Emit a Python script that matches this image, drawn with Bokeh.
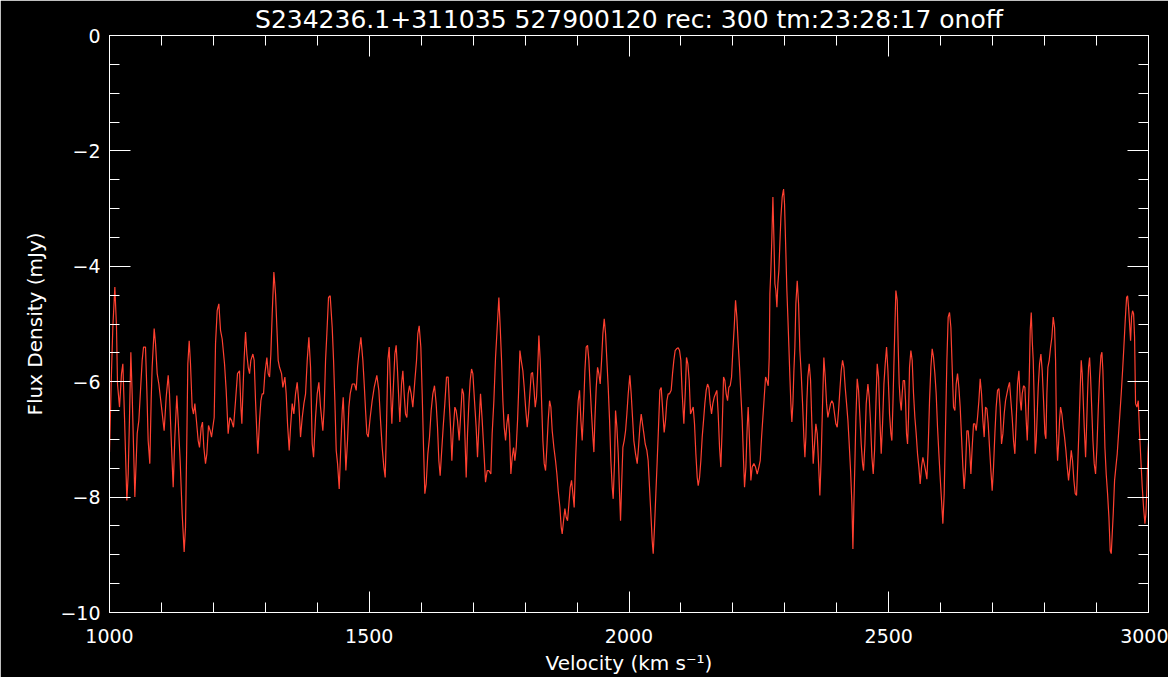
from bokeh.plotting import figure
from bokeh.models import LinearAxis, SingleIntervalTicker, Range1d
from bokeh.embed import file_html
from bokeh.resources import INLINE

title_text = "S234236.1+311035 527900120 rec: 300 tm:23:28:17 onoff"
x_label = "Velocity (km s\u207b\u00b9)"
y_label = "Flux Density (mJy)"

velocity = [
    1000.0, 1003.9, 1006.4, 1010.3, 1013.5, 1015.4, 1019.3, 1023.1, 1025.7, 1028.9,
    1033.4, 1036.0, 1038.5, 1041.1, 1043.6, 1048.8, 1053.3, 1056.5, 1062.9, 1065.5,
    1069.3, 1071.9, 1074.4, 1077.6, 1080.2, 1082.1, 1086.0, 1088.6, 1091.8, 1095.0,
    1100.1, 1105.2, 1109.1, 1113.0, 1115.5, 1119.4, 1122.6, 1125.8, 1129.6, 1132.2,
    1136.0, 1139.9, 1143.7, 1146.3, 1148.9, 1150.8, 1153.4, 1155.9, 1159.1, 1161.7,
    1164.3, 1166.8, 1170.7, 1173.3, 1176.5, 1179.0, 1181.6, 1184.8, 1187.4, 1190.6,
    1193.8, 1196.4, 1198.9, 1201.5, 1204.1, 1207.3, 1210.5, 1213.7, 1216.9, 1221.4,
    1224.6, 1228.4, 1231.7, 1234.9, 1238.7, 1242.6, 1246.4, 1250.3,
    1252.9, 1254.8, 1256.7, 1259.3, 1261.9, 1264.4, 1267.0, 1269.6, 1272.1, 1276.0,
    1278.5, 1281.1, 1283.7, 1285.6, 1288.8, 1291.4, 1293.9, 1296.5, 1299.1, 1302.9,
    1305.5, 1308.1, 1310.6, 1313.2, 1316.4, 1319.6, 1322.2, 1324.7, 1327.3, 1331.2,
    1333.7, 1337.6, 1340.1, 1342.7, 1345.9, 1348.5, 1351.7, 1354.9, 1358.1, 1361.3,
    1364.5, 1367.7, 1371.0, 1374.2, 1377.4, 1380.6, 1383.8, 1387.0, 1390.2, 1392.8,
    1396.6, 1399.8, 1403.0, 1406.2, 1410.7, 1413.3, 1415.9, 1418.4, 1421.6, 1424.8,
    1428.7, 1431.3, 1433.8, 1436.4, 1439.0, 1442.2, 1445.4, 1448.0, 1449.9, 1452.4,
    1455.0, 1458.2, 1460.8, 1463.3, 1467.2, 1471.7, 1474.9, 1477.5, 1480.0, 1483.9,
    1487.7, 1490.3, 1492.9, 1495.4, 1498.0,
    1501.8, 1505.6, 1509.5, 1514.6, 1518.5, 1521.7, 1524.9, 1528.1, 1530.7, 1533.2,
    1535.8, 1538.4, 1540.9, 1543.5, 1546.7, 1549.3, 1551.8, 1554.4, 1557.0, 1558.9,
    1562.1, 1564.7, 1567.2, 1569.8, 1572.4, 1574.9, 1577.5, 1580.7, 1583.9, 1587.8,
    1591.0, 1593.5, 1596.1, 1599.3, 1601.9, 1604.5, 1607.0, 1609.6, 1612.8, 1616.0,
    1619.2, 1622.4, 1625.6, 1628.8, 1631.4, 1634.0, 1636.5, 1639.1, 1642.3, 1645.5,
    1648.7, 1651.9, 1654.5, 1657.1, 1659.0, 1661.6, 1664.8, 1667.3, 1669.9, 1673.1,
    1675.7, 1678.9, 1681.5, 1684.0, 1686.6, 1689.2, 1691.7, 1694.3, 1696.9, 1699.4,
    1702.6, 1705.8, 1708.4, 1711.0, 1714.2, 1717.4, 1720.6, 1723.8, 1727.0, 1730.2,
    1734.1, 1736.6, 1739.9, 1743.1, 1746.3, 1749.5,
    1752.1, 1754.7, 1757.2, 1759.8, 1762.4, 1764.9, 1767.5, 1770.1, 1772.6, 1775.2,
    1777.8, 1780.3, 1782.9, 1785.5, 1788.0, 1790.0, 1792.5, 1795.7, 1798.3, 1800.9,
    1804.1, 1806.6, 1809.2, 1811.8, 1814.3, 1816.9, 1819.5, 1822.0, 1824.0, 1826.5,
    1829.1, 1831.7, 1834.2, 1836.8, 1839.4, 1841.9, 1844.5, 1847.1, 1849.6, 1852.2,
    1855.4, 1858.6, 1861.2, 1863.7, 1867.0, 1869.5, 1871.4, 1874.0, 1876.6, 1879.1,
    1881.7, 1884.3, 1886.8, 1889.4, 1892.0, 1894.5, 1897.1, 1899.7, 1902.2, 1904.8,
    1907.4, 1909.9, 1912.5, 1915.1, 1917.6, 1920.2, 1922.8, 1925.3, 1927.9, 1930.5,
    1932.4, 1934.3, 1936.9, 1939.5, 1942.0, 1944.6, 1947.2, 1949.7, 1952.3, 1954.9,
    1957.4, 1960.0, 1962.6, 1965.1, 1967.7, 1969.6, 1972.2, 1974.1, 1976.7, 1979.3,
    1981.8, 1983.7, 1985.7, 1988.2, 1990.8, 1993.4, 1995.9, 1998.5,
    2001.6, 2004.2, 2006.8, 2009.3, 2012.6, 2015.8, 2018.3, 2020.9, 2023.5, 2026.0,
    2028.6, 2031.2, 2034.4, 2036.9, 2039.5, 2042.1, 2044.6, 2046.6, 2049.1, 2051.7,
    2054.3, 2056.8, 2059.4, 2062.0, 2064.5, 2067.7, 2070.3, 2072.9, 2075.4, 2078.0,
    2081.2, 2083.8, 2086.3, 2088.9, 2091.5, 2094.7, 2097.3, 2099.8, 2102.4, 2105.6,
    2108.2, 2110.7, 2113.3, 2115.9, 2118.4, 2121.0, 2123.6, 2126.1, 2128.7, 2131.3,
    2133.2, 2135.8, 2138.3, 2140.9, 2143.5, 2146.0, 2148.6, 2151.2, 2153.7, 2156.3,
    2158.9, 2161.4, 2164.0, 2166.6, 2169.1, 2171.7, 2174.3, 2176.8, 2179.4, 2182.0,
    2184.5, 2187.1, 2189.7, 2192.2, 2194.8, 2197.4, 2199.9, 2202.5, 2205.1, 2207.6,
    2210.2, 2212.8, 2215.3, 2217.9, 2220.5, 2222.4, 2225.0, 2227.5, 2229.4, 2232.0,
    2234.6, 2237.1, 2240.4, 2243.6, 2246.8, 2250.0,
    2252.6, 2255.2, 2257.7, 2260.3, 2262.9, 2265.4, 2268.0, 2269.9, 2271.2, 2273.1,
    2275.0, 2277.0, 2278.9, 2280.8, 2282.7, 2284.7, 2286.6, 2288.5, 2290.4, 2292.4,
    2294.9, 2297.5, 2299.4, 2302.0, 2303.9, 2305.8, 2307.8, 2309.7, 2311.6, 2313.5,
    2315.5, 2317.4, 2319.3, 2321.2, 2323.8, 2326.4, 2328.9, 2331.5, 2334.1, 2336.6,
    2338.6, 2340.5, 2342.4, 2344.3, 2346.9, 2349.5, 2352.0, 2354.6, 2357.2, 2359.7,
    2362.3, 2364.9, 2367.4, 2370.0, 2372.6, 2375.1, 2377.7, 2380.3, 2382.8, 2385.4,
    2388.0, 2390.5, 2393.1, 2395.7, 2398.2, 2400.8, 2403.4, 2405.9, 2408.5, 2411.1,
    2413.6, 2416.2, 2418.8, 2421.4, 2423.9, 2426.5, 2429.1, 2431.0, 2432.9, 2434.8,
    2436.8, 2439.3, 2441.9, 2444.5, 2447.0, 2449.6, 2451.5, 2454.1, 2456.6, 2459.9,
    2462.4, 2465.0, 2467.6, 2470.1, 2472.7, 2475.3, 2477.8, 2480.4, 2483.0, 2485.5,
    2488.1, 2490.7, 2493.2, 2495.8, 2498.4, 2500.9,
    2501.5, 2504.1, 2506.0, 2507.9, 2509.8, 2511.8, 2513.7, 2516.3, 2518.2, 2520.1,
    2522.0, 2524.0, 2525.9, 2527.8, 2530.4, 2532.3, 2534.2, 2536.2, 2538.1, 2540.0,
    2542.6, 2545.1, 2547.7, 2550.3, 2552.8, 2555.4, 2558.0, 2560.5, 2563.1, 2565.7,
    2568.2, 2570.8, 2573.4, 2575.9, 2578.5, 2581.1, 2583.6, 2586.2, 2588.8, 2591.3,
    2593.9, 2596.5, 2599.0, 2601.6, 2604.2, 2606.7, 2609.3, 2611.9, 2614.4, 2617.0,
    2619.6, 2622.1, 2624.7, 2627.3, 2629.8, 2632.4, 2635.0, 2637.5, 2640.1, 2642.7,
    2645.2, 2647.8, 2650.4, 2652.9, 2655.5, 2658.1, 2660.6, 2663.2, 2665.8, 2668.3,
    2670.9, 2673.5, 2676.0, 2678.6, 2681.2, 2683.7, 2686.3, 2688.9, 2691.4, 2694.0,
    2696.6, 2699.1, 2701.7, 2704.3, 2706.8, 2709.4, 2712.0, 2714.5, 2717.1, 2719.7,
    2722.2, 2724.8, 2727.4, 2729.9, 2732.5, 2735.1, 2737.6, 2740.2, 2742.8, 2745.3,
    2747.9, 2750.5,
    2753.1, 2755.0, 2756.9, 2759.5, 2762.1, 2764.6, 2766.6, 2768.5, 2770.4, 2772.3,
    2774.3, 2776.2, 2778.1, 2780.0, 2782.0, 2783.9, 2785.8, 2787.7, 2790.3, 2792.9,
    2795.4, 2798.0, 2800.6, 2802.5, 2804.4, 2806.3, 2808.9, 2811.5, 2814.0, 2816.6,
    2819.2, 2821.1, 2823.0, 2825.0, 2826.9, 2828.8, 2830.7, 2833.3, 2835.9, 2838.4,
    2841.0, 2843.6, 2846.1, 2848.7, 2851.3, 2853.8, 2856.4, 2859.0, 2861.5, 2864.1,
    2866.7, 2868.6, 2870.5, 2872.4, 2874.4, 2876.3, 2878.9, 2880.8, 2882.7, 2884.6,
    2886.6, 2888.5, 2890.4, 2893.0, 2895.5, 2898.1, 2900.7, 2903.2, 2905.8, 2908.4,
    2910.3, 2912.2, 2914.2, 2916.1, 2918.6, 2921.2, 2923.8, 2926.3, 2928.3, 2930.2,
    2932.1, 2934.7, 2937.2, 2939.8, 2942.4, 2944.9, 2947.5, 2950.1, 2952.6, 2955.2,
    2957.8, 2959.7, 2961.6, 2963.6, 2965.5, 2967.4, 2969.3, 2971.3, 2973.2, 2975.1,
    2977.7, 2980.3, 2982.8, 2985.4, 2988.0, 2990.5, 2993.1, 2995.0, 2997.0, 2998.9,
    3000.0,
]

flux = [
    -7.22, -5.81, -5.06, -4.36, -5.06, -6.04, -6.44, -5.86, -5.69, -6.62,
    -8.06, -7.60, -6.62, -5.49, -6.21, -8.00, -6.90, -6.67, -5.63, -5.40,
    -5.40, -6.15, -7.02, -7.42, -6.33, -5.75, -5.08, -5.34, -5.86, -6.04,
    -6.44, -6.85, -6.27, -5.89, -6.21, -7.14, -7.83, -6.96, -6.24, -6.67,
    -7.37, -8.29, -8.95, -8.52, -6.96, -5.69, -5.29, -5.69, -6.44, -6.56,
    -6.38, -6.62, -7.02, -7.14, -6.79, -6.70, -7.14, -7.42, -7.25, -6.76,
    -6.85, -6.96, -6.79, -6.62, -5.34, -4.77, -4.65, -5.11, -5.26, -5.69,
    -6.15, -6.90, -6.62, -6.67, -6.79, -6.33, -5.86, -5.81,
    -6.44, -6.73, -6.21, -5.58, -5.14, -5.52, -5.75, -5.86, -5.63, -5.52,
    -5.63, -6.33, -6.90, -7.25, -6.67, -6.33, -6.21, -6.21, -5.86, -5.58,
    -5.86, -5.92, -5.52, -4.82, -4.10, -4.48, -5.06, -5.63, -5.75, -5.86,
    -6.10, -5.92, -6.21, -6.73, -7.19, -6.79, -6.38, -6.56, -6.21, -6.01,
    -6.38, -6.96, -6.62, -6.38, -6.21, -5.63, -5.23, -5.75, -7.08, -7.31,
    -6.62, -6.21, -6.01, -6.44, -6.85, -6.44, -5.63, -5.17, -4.54, -4.51,
    -5.06, -5.63, -6.33, -7.19, -7.42, -7.86, -7.08, -6.50, -6.27, -6.85,
    -7.54, -7.02, -6.44, -6.21, -6.04, -6.04, -6.15, -5.75, -5.52, -5.23,
    -5.63, -6.04, -6.50, -6.90, -6.96,
    -6.62, -6.33, -6.10, -5.89, -6.15, -6.67, -7.14, -7.48, -7.66, -6.79,
    -5.63, -5.40, -6.10, -6.73, -6.04, -5.52, -5.37, -5.81, -6.33, -6.70,
    -6.04, -5.81, -6.21, -6.56, -6.62, -6.21, -6.07, -6.21, -6.44, -5.98,
    -5.63, -5.17, -5.03, -5.40, -6.21, -7.14, -7.94, -7.77, -7.25, -6.96,
    -6.50, -6.21, -6.07, -6.38, -6.79, -7.37, -7.63, -7.25, -6.79, -6.38,
    -5.92, -5.92, -6.44, -6.90, -7.37, -6.85, -6.44, -6.50, -6.67, -7.02,
    -6.62, -6.12, -6.21, -6.90, -7.66, -6.90, -6.38, -5.98, -5.78, -5.86,
    -6.33, -6.79, -7.31, -6.79, -6.21, -6.67, -7.19, -7.74, -7.54, -7.54,
    -7.60, -6.90, -6.33, -5.58, -5.06, -4.54,
    -5.06, -5.63, -6.33, -6.79, -7.02, -6.73, -6.56, -6.90, -7.60, -7.31,
    -7.14, -7.37, -7.14, -6.67, -6.04, -5.46, -5.63, -5.81, -6.10, -6.44,
    -6.79, -6.56, -6.21, -5.86, -5.84, -6.10, -6.44, -6.27, -5.86, -5.20,
    -5.63, -6.33, -7.02, -7.42, -7.54, -7.14, -6.67, -6.33, -6.44, -6.85,
    -7.14, -7.37, -7.60, -7.89, -8.18, -8.52, -8.64, -8.41, -8.20, -8.35,
    -8.41, -8.12, -7.83, -7.71, -7.94, -8.18, -7.37, -6.79, -6.33, -6.15,
    -6.67, -7.02, -6.50, -5.81, -5.40, -5.37, -5.63, -6.10, -6.56, -6.96,
    -7.22, -6.67, -6.10, -5.75, -5.86, -6.04, -5.63, -5.17, -4.91, -5.17,
    -5.63, -6.10, -6.67, -7.37, -7.83, -8.03, -7.37, -6.50, -6.79, -7.25,
    -7.94, -8.41, -7.83, -7.14, -7.02, -6.85, -6.56, -6.21,
    -5.89, -6.21, -6.62, -7.02, -7.25, -7.42, -7.14, -6.79, -6.56, -6.73,
    -6.90, -7.08, -7.19, -7.37, -7.83, -8.29, -8.75, -8.98, -8.52, -7.94,
    -7.37, -6.79, -6.15, -6.10, -6.44, -6.88, -6.67, -6.33, -6.21, -6.21,
    -6.15, -5.86, -5.63, -5.46, -5.43, -5.41, -5.46, -5.63, -6.21, -6.73,
    -6.21, -5.58, -5.69, -5.98, -6.56, -6.50, -6.44, -6.73, -7.25, -7.66,
    -7.80, -7.66, -7.37, -6.96, -6.67, -6.38, -6.15, -6.04, -6.10, -6.38,
    -6.56, -6.38, -6.27, -6.21, -6.15, -6.56, -7.14, -7.48, -6.79, -5.92,
    -5.98, -6.21, -6.33, -6.10, -6.07, -5.92, -5.46, -5.06, -4.59, -4.88,
    -5.34, -5.75, -6.21, -6.67, -7.37, -7.83, -7.48, -6.79, -6.44, -7.02,
    -7.71, -7.48, -7.42, -7.48, -7.60, -7.48,
    -7.37, -6.96, -6.62, -6.27, -5.92, -5.98, -6.07, -5.58, -4.48, -4.07,
    -3.50, -2.80, -3.50, -4.30, -4.42, -4.71, -4.30, -4.07, -3.61, -3.15,
    -2.80, -2.66, -2.92, -3.78, -4.42, -4.88, -5.40, -5.92, -6.38, -6.70,
    -6.38, -5.81, -5.40, -4.65, -4.25, -4.65, -5.46, -5.86, -6.38, -6.96,
    -7.31, -6.96, -6.33, -5.92, -5.69, -5.98, -6.73, -7.42, -7.08, -6.73,
    -6.90, -7.42, -7.97, -7.31, -6.38, -5.58, -5.92, -6.38, -6.62, -6.50,
    -6.38, -6.33, -6.38, -6.56, -6.73, -6.79, -6.50, -6.15, -5.81, -5.63,
    -5.75, -6.10, -6.38, -6.67, -7.08, -7.54, -8.12, -8.90, -8.12, -7.42,
    -6.61, -5.95, -6.15, -6.61, -7.08, -7.42, -7.54, -7.08, -6.38, -6.04,
    -6.27, -6.73, -7.31, -7.60, -7.19, -6.38, -5.69, -5.92, -6.67, -7.25,
    -6.73, -6.04, -5.69, -5.40, -5.81, -6.38,
    -6.56, -6.90, -7.02, -6.44, -5.75, -5.06, -4.42, -4.59, -5.40, -6.04,
    -6.33, -6.50, -6.21, -5.98, -5.98, -6.33, -6.90, -7.08, -6.62, -5.75,
    -5.46, -5.63, -6.21, -6.62, -6.90, -7.25, -7.48, -7.77, -7.48, -7.31,
    -7.42, -7.54, -7.69, -7.14, -6.33, -5.75, -5.43, -5.58, -5.86, -6.21,
    -6.79, -7.25, -7.66, -8.06, -8.46, -7.94, -6.79, -5.63, -4.88, -4.80,
    -5.06, -5.75, -6.44, -6.50, -6.04, -5.86, -6.10, -6.44, -6.96, -7.48,
    -7.86, -7.48, -6.85, -6.85, -7.14, -7.60, -7.14, -6.73, -6.73, -6.85,
    -6.62, -6.33, -5.95, -6.21, -6.67, -6.96, -6.44, -6.47, -6.73, -7.14,
    -7.54, -7.89, -7.48, -6.90, -6.44, -6.15, -6.12, -6.44, -7.08, -6.90,
    -6.56, -6.33, -6.21, -6.10, -6.01, -6.33, -6.62, -7.02, -7.25, -6.67,
    -6.04, -5.81,
    -6.33, -6.50, -6.21, -6.07, -6.10, -6.67, -7.02, -6.56, -5.98, -5.11,
    -4.80, -5.29, -5.63, -6.33, -7.25, -7.02, -6.56, -6.10, -5.69, -5.52,
    -5.81, -6.33, -6.90, -6.99, -6.21, -5.75, -5.63, -5.40, -5.23, -4.88,
    -5.06, -5.63, -6.90, -7.37, -7.08, -6.67, -6.44, -6.56, -6.79, -6.96,
    -7.19, -7.48, -7.71, -7.48, -7.19, -7.37, -7.71, -7.94, -7.97, -7.37,
    -6.67, -6.10, -5.63, -5.86, -6.33, -6.79, -7.31, -6.79, -6.21, -5.75,
    -5.58, -5.92, -6.38, -7.02, -7.42, -7.60, -7.14, -6.50, -5.92, -5.55,
    -5.49, -5.81, -6.44, -7.14, -7.60, -7.94, -8.35, -8.93, -8.98, -8.64,
    -8.29, -7.71, -7.48, -7.25, -6.90, -6.56, -6.21, -5.81, -5.40, -4.94,
    -4.54, -4.51, -4.71, -5.00, -5.29, -4.88, -4.77, -4.82, -5.23, -6.38,
    -6.44, -6.33, -6.90, -7.37, -7.83, -8.18, -8.46, -8.29, -7.83, -7.25,
    -7.05,
]

FONT = "DejaVu Sans"
WHITE = "white"

p = figure(
    frame_width=1039, frame_height=577,
    x_range=Range1d(1000, 3000), y_range=Range1d(-10, 0),
    output_backend="svg", toolbar_location=None,
    background_fill_color="black", border_fill_color="black",
    min_border_left=109, min_border_right=20, min_border_top=0, min_border_bottom=40,
    x_axis_location=None, y_axis_location=None,
)
p.title.text = title_text
p.title.align = "center"
p.title.text_color = WHITE
p.title.text_font = FONT
p.title.text_font_size = "25px"
p.title.text_font_style = "normal"
p.title.standoff = 4
p.outline_line_color = WHITE
p.grid.visible = False

p.line(velocity, flux, line_color="#ff4030", line_width=1.2)


def make_axis(interval, minor, labels=True, label_text=None):
    ax = LinearAxis(ticker=SingleIntervalTicker(interval=interval, num_minor_ticks=minor))
    ax.axis_line_color = WHITE
    ax.major_tick_line_color = WHITE
    ax.minor_tick_line_color = WHITE
    ax.major_tick_in = 21
    ax.major_tick_out = 0
    ax.minor_tick_in = 10
    ax.minor_tick_out = 0
    if labels:
        ax.major_label_text_color = WHITE
        ax.major_label_text_font = FONT
        ax.major_label_text_font_size = "19px"
    else:
        ax.major_label_text_color = None
        ax.major_label_text_font_size = "0px"
        ax.major_label_standoff = 0
    if label_text:
        ax.axis_label = label_text
        ax.axis_label_text_color = WHITE
        ax.axis_label_text_font = FONT
        ax.axis_label_text_font_size = "20px"
        ax.axis_label_text_font_style = "normal"
    return ax


xb = make_axis(500, 5, True, x_label)
xb.major_label_standoff = 16
xb.axis_label_standoff = 5
p.add_layout(xb, "below")
xt = make_axis(500, 5, False)
p.add_layout(xt, "above")

yl = make_axis(2, 4, True, y_label)
yl.major_label_standoff = 9
yl.axis_label_standoff = 10
p.add_layout(yl, "left")
yr = make_axis(2, 4, False)
p.add_layout(yr, "right")

open("out.html", "w").write(file_html(p, INLINE))
